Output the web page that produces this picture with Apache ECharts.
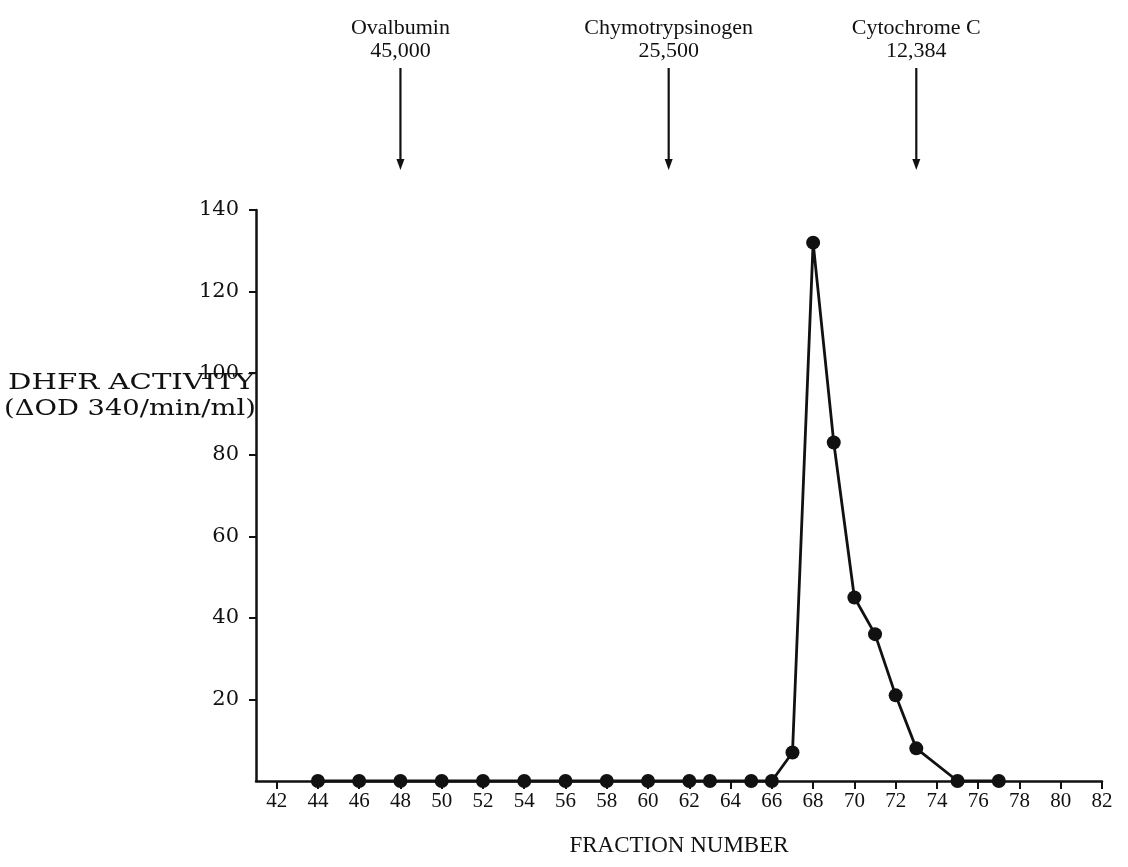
<!DOCTYPE html>
<html>
<head>
<meta charset="utf-8">
<script src="https://cdn.jsdelivr.net/npm/echarts@6/dist/echarts.min.js"></script>
<style>html,body{margin:0;padding:0;background:#fff}#c{width:1128px;height:867px}</style>
</head>
<body>
<div id="c"></div>
<script>
// ---- data ----
const fractions = [44, 46, 48, 50, 52, 54, 56, 58, 60, 62, 63, 65, 66, 67, 68, 69, 70, 71, 72, 73, 75, 77];
const activity  = [0, 0, 0, 0, 0, 0, 0, 0, 0, 0, 0, 0, 0, 7, 132, 83, 45, 36, 21, 8, 0, 0];
const xTicks = [42, 44, 46, 48, 50, 52, 54, 56, 58, 60, 62, 64, 66, 68, 70, 72, 74, 76, 78, 80, 82];
const yTicks = [20, 40, 60, 80, 100, 120, 140];
const markerFractions = [48, 61, 73];
const markerNames = ['Ovalbumin', 'Chymotrypsinogen', 'Cytochrome C'];
const markerWeights = ['45,000', '25,500', '12,384'];

// ---- layout ----
const INK = '#111';
const SERIF = 'DejaVu Serif';
const GL = 256, GR = 26, GT = 210, GB = 86;
const ARROW_TOP = 68, ARROW_TIP = 170;

const chart = echarts.init(document.getElementById('c'), null, {renderer: 'canvas'});
chart.setOption({
  backgroundColor: '#fff',
  animation: false,
  grid: [
    {left: GL, right: GR, top: GT, bottom: GB},
    {left: GL, right: GR, top: 0, height: GT}
  ],
  xAxis: [
    {
      type: 'value', gridIndex: 0, min: 41, max: 82,
      name: 'FRACTION NUMBER', nameLocation: 'middle', nameGap: 53,
      nameTextStyle: {fontFamily: 'Liberation Serif', fontSize: 23, color: INK},
      axisLine: {lineStyle: {color: INK, width: 2.5}},
      axisTick: {show: true, customValues: xTicks, length: 8, lineStyle: {color: INK, width: 2}},
      axisLabel: {customValues: xTicks, margin: 10, fontFamily: 'Liberation Serif', fontSize: 21, color: INK},
      splitLine: {show: false}
    },
    {
      type: 'value', gridIndex: 1, min: 41, max: 82, show: false
    }
  ],
  yAxis: [
    {
      type: 'value', gridIndex: 0, min: 0, max: 140,
      axisLine: {show: true, lineStyle: {color: INK, width: 2.5}},
      axisTick: {show: true, customValues: yTicks, length: 7, lineStyle: {color: INK, width: 2}},
      axisLabel: {customValues: yTicks, margin: 17, fontFamily: SERIF, fontSize: 21, color: INK},
      splitLine: {show: false}
    },
    {
      type: 'value', gridIndex: 1, min: 0, max: GT, inverse: true, show: false
    }
  ],
  graphic: [
    {type: 'text', x: 8, y: 372, scaleX: 1.27,
     style: {text: 'DHFR ACTIVITY', font: '23px "DejaVu Serif"', fill: INK}},
    {type: 'text', x: 4, y: 398, scaleX: 1.19,
     style: {text: '(\u0394OD 340/min/ml)', font: '23px "DejaVu Serif"', fill: INK}}
  ],
  series: [
    {
      type: 'line', xAxisIndex: 0, yAxisIndex: 0,
      data: fractions.map((f, i) => [f, activity[i]]),
      symbol: 'circle', symbolSize: 14,
      lineStyle: {color: INK, width: 2.8},
      itemStyle: {color: INK},
      clip: false
    },
    {
      type: 'custom', xAxisIndex: 1, yAxisIndex: 1,
      data: markerFractions.map((f, i) => [f, i]),
      renderItem: function (params, api) {
        const idx = api.value(1);
        const top = api.coord([api.value(0), ARROW_TOP]);
        const tip = api.coord([api.value(0), ARROW_TIP]);
        return {
          type: 'group',
          children: [
            {type: 'line', shape: {x1: top[0], y1: top[1], x2: tip[0], y2: tip[1] - 8},
             style: {stroke: INK, lineWidth: 2.2}},
            {type: 'polygon', shape: {points: [[tip[0] - 4, tip[1] - 11], [tip[0] + 4, tip[1] - 11], [tip[0], tip[1]]]},
             style: {fill: INK}},
            {type: 'text', x: top[0], y: top[1] - 5,
             style: {text: markerNames[idx] + '\n' + markerWeights[idx], align: 'center', verticalAlign: 'bottom',
                     font: '22px "Liberation Serif"', lineHeight: 23, fill: INK}}
          ]
        };
      }
    }
  ]
});
</script>
</body>
</html>
